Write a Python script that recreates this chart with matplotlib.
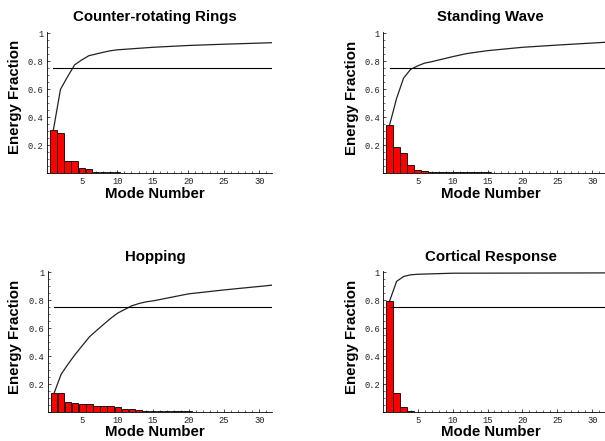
import numpy as np
import matplotlib
matplotlib.use("Agg")
import matplotlib.pyplot as plt
from matplotlib.ticker import MultipleLocator, FixedLocator

modes = np.arange(1, 33)

titles = ["Counter-rotating Rings", "Standing Wave", "Hopping", "Cortical Response"]

rings = [0.31, 0.29, 0.09, 0.085, 0.035, 0.03, 0.012, 0.012, 0.011, 0.007,
         0.0036, 0.0036, 0.0036, 0.0036, 0.0036,
         0.0026, 0.0026, 0.0026, 0.0026, 0.0026,
         0.0018, 0.0018, 0.0018, 0.0018, 0.0018,
         0.0016, 0.0016, 0.0016, 0.0016, 0.0016, 0.0016, 0.0016]
standing = [0.345, 0.19, 0.145, 0.062, 0.025, 0.02, 0.01, 0.012, 0.012, 0.012,
            0.011, 0.011, 0.007, 0.007, 0.007,
            0.0048, 0.0048, 0.0048, 0.0048, 0.0048,
            0.0032, 0.0032, 0.0032, 0.0032, 0.0032,
            0.0029, 0.0029, 0.0029, 0.0029, 0.0029, 0.0029, 0.0029]
hopping = [0.136, 0.136, 0.074, 0.069, 0.062, 0.062, 0.045, 0.044, 0.043, 0.038,
           0.026, 0.026, 0.016, 0.012, 0.007,
           0.010, 0.010, 0.010, 0.010, 0.010,
           0.0056, 0.0056, 0.0056, 0.0056, 0.0056,
           0.005, 0.005, 0.005, 0.005, 0.005, 0.005, 0.005]
cortical = [0.795, 0.14, 0.035, 0.012, 0.004, 0.0015, 0.0015, 0.0015, 0.0015, 0.0015,
            0.0001, 0.0001, 0.0001, 0.0001, 0.0001, 0.0001, 0.0001, 0.0001, 0.0001, 0.0001,
            0.0001, 0.0001, 0.0001, 0.0001, 0.0001, 0.0001, 0.0001, 0.0001, 0.0001, 0.0001,
            0.0001, 0.0001]
series = [rings, standing, hopping, cortical]
threshold = 0.75

x_ticks = [5, 10, 15, 20, 25, 30]
y_ticks = [0.2, 0.4, 0.6, 0.8, 1.0]
y_tick_labels = ["0.2", "0.4", "0.6", "0.8", "1"]

W, H = 605, 441
fig = plt.figure(figsize=(W / 100, H / 100), dpi=100)

# panel geometry in pixels: left, right, bottom(y of value 0)
panels = [(47, 272, 173.3), (383.3, 605, 173.3), (47.7, 272, 412.3), (383.3, 605, 412.3)]
title_pos = [(155, 16.7), (490.8, 17.0), (155, 257.0), (490.8, 256.7)]
xlabel_pos = [(155, 194.3), (490.8, 194.3), (155, 432.0), (490.8, 432.0)]
ylabel_pos = [(15, 97), (351.7, 97.5), (15, 336.7), (351.7, 336.7)]

ytop = 1.012
pxu = 140.0
bold = dict(family="Liberation Sans", fontweight="bold", fontsize=10.8)

for i, vals in enumerate(series):
    l, r, b = panels[i]
    h = pxu * ytop
    ax = fig.add_axes([l / W, (H - b) / H, (r - l) / W, h / H])
    vals = np.array(vals)
    ax.bar(modes, vals, width=0.9, color="#ff0000", edgecolor="black", linewidth=0.6, zorder=2)
    ax.plot(modes, np.cumsum(vals), color="#222222", linewidth=0.9, zorder=3)
    ax.plot([1, 32], [threshold, threshold], color="black", linewidth=0.8, zorder=3)
    ax.set_xlim(0.1, 31.8)
    ax.set_ylim(0, ytop)
    for s in ["top", "right"]:
        ax.spines[s].set_visible(False)
    for s in ["left", "bottom"]:
        ax.spines[s].set_linewidth(0.6)
    ax.xaxis.set_major_locator(FixedLocator(x_ticks))
    ax.xaxis.set_minor_locator(MultipleLocator(1))
    ax.yaxis.set_major_locator(FixedLocator(y_ticks))
    ax.set_yticklabels(y_tick_labels)
    ax.yaxis.set_minor_locator(MultipleLocator(0.05))
    ax.tick_params(which="major", direction="in", length=2.4, width=0.5, pad=2.5,
                   labelsize=6.3, colors="black")
    ax.tick_params(which="minor", direction="in", length=1.2, width=0.4)
    for lab in ax.get_xticklabels() + ax.get_yticklabels():
        lab.set_family("Liberation Mono")
        lab.set_color("#222222")
    fig.text(title_pos[i][0] / W, 1 - title_pos[i][1] / H, titles[i],
             ha="center", va="center", **bold)
    fig.text(xlabel_pos[i][0] / W, 1 - xlabel_pos[i][1] / H, "Mode Number",
             ha="center", va="center", **bold)
    fig.text(ylabel_pos[i][0] / W, 1 - ylabel_pos[i][1] / H, "Energy Fraction",
             ha="center", va="center", rotation=90, **bold)

fig.savefig("out.png", dpi=100)
